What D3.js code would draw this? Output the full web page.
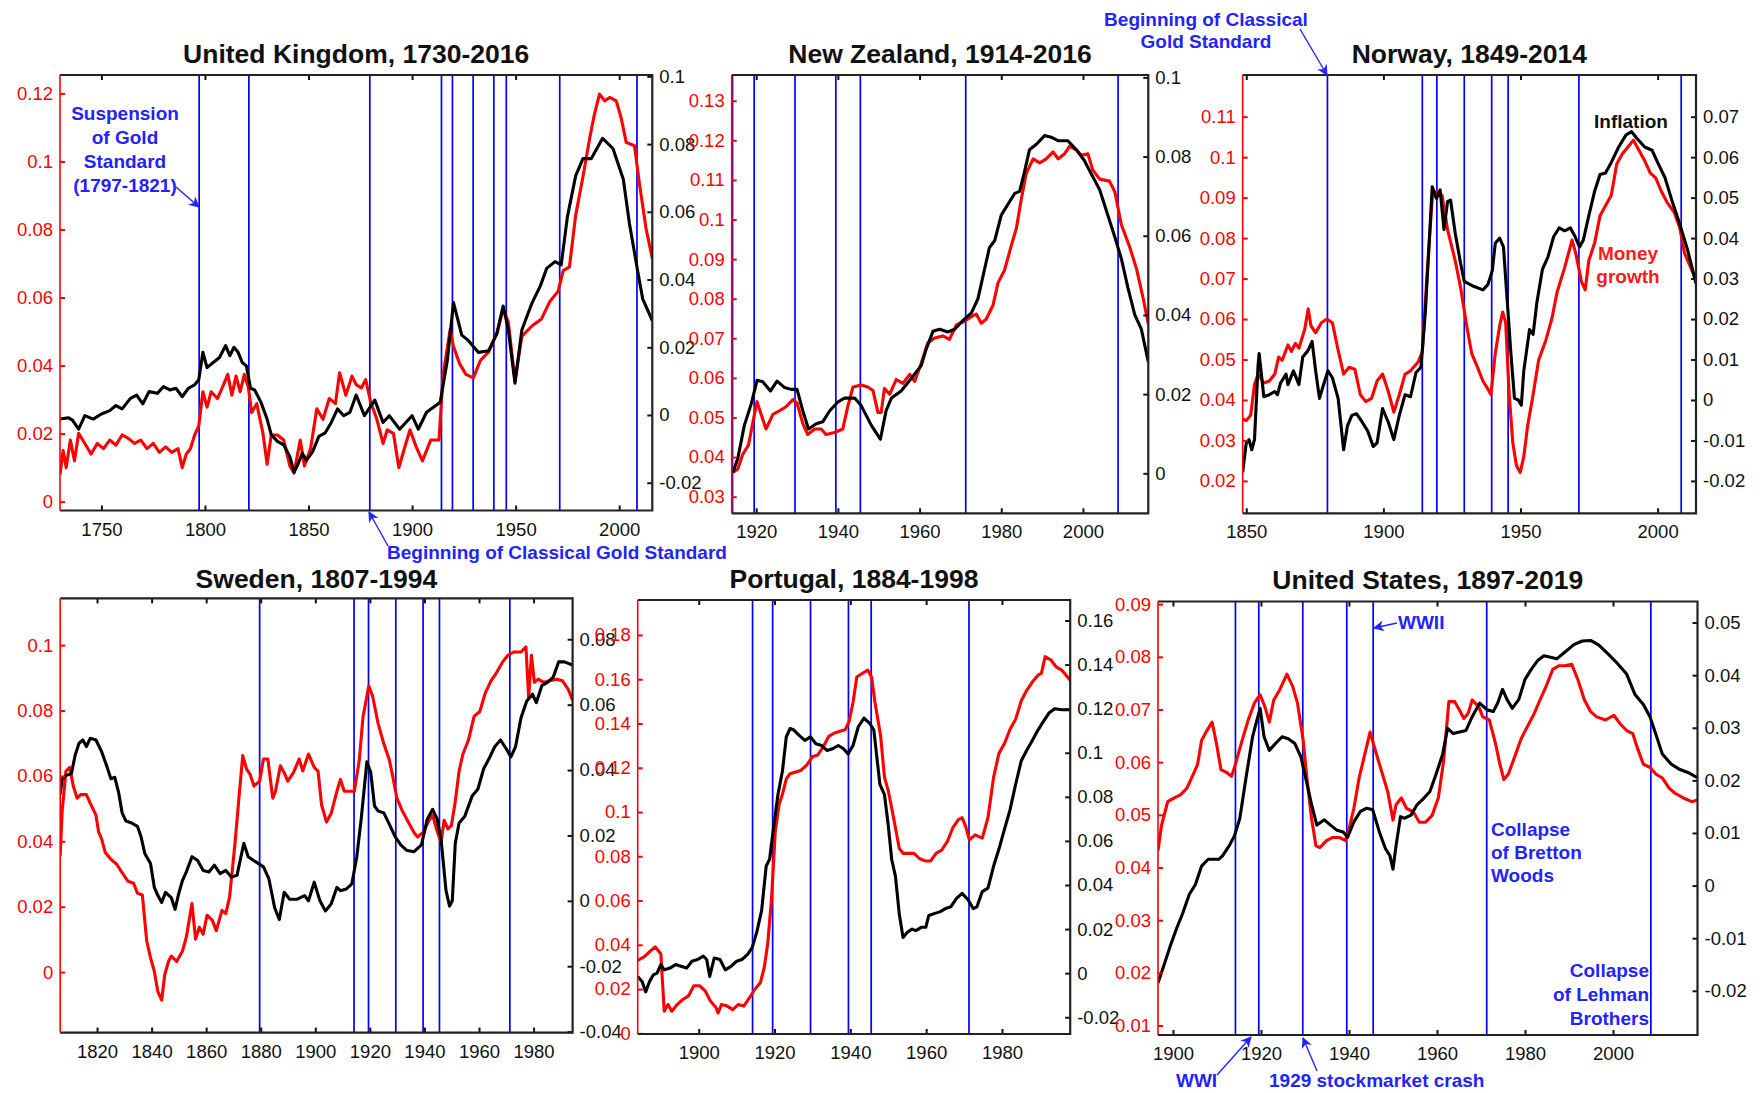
<!DOCTYPE html>
<html>
<head>
<meta charset="utf-8">
<script src="https://cdn.jsdelivr.net/npm/d3@7"></script>
<style>
  body { margin: 0; background: #fff; }
  svg { display: block; font-family: "Liberation Sans", Arial, Helvetica, sans-serif; }
</style>
</head>
<body>
<svg id="chart" width="1763" height="1093"></svg>
<script>
// ---------------- data: [year, value] ----------------
// Money growth (red, left axis) and inflation (black, right axis), moving averages.

const ukMoney = [[1730,0.0079],[1731.5,0.015],[1733,0.010],[1735,0.0181],[1737,0.012],[1739,0.0201],[1742,0.0171],[1745,0.014],[1748,0.0171],[1751,0.0156],[1754,0.0181],[1757,0.0166],[1760,0.0196],[1763,0.0186],[1766,0.0171],[1769,0.0181],[1772,0.0156],[1775,0.0171],[1778,0.0145],[1781,0.0161],[1784,0.0145],[1787,0.0156],[1789,0.010],[1791,0.014],[1793,0.0156],[1795,0.0196],[1797,0.0222],[1799,0.0323],[1801,0.0278],[1803,0.0323],[1806,0.0303],[1809,0.0344],[1811,0.0374],[1813,0.0313],[1815,0.0369],[1817,0.0323],[1819,0.0374],[1821,0.0334],[1822.5,0.0262],[1825,0.0288],[1828,0.0201],[1830,0.011],[1832,0.0196],[1835,0.0196],[1838,0.0181],[1841,0.0105],[1843,0.0084],[1846,0.0181],[1848,0.0105],[1851,0.0156],[1854,0.0273],[1857,0.0242],[1860,0.0303],[1863,0.0288],[1865,0.0379],[1868,0.0313],[1871,0.0369],[1873,0.0344],[1875.5,0.0334],[1877.6,0.0359],[1880,0.0293],[1883,0.0242],[1886,0.0171],[1888,0.0211],[1891,0.0201],[1893.6,0.010],[1897,0.0171],[1899,0.0211],[1902,0.0161],[1905,0.012],[1909,0.0181],[1913,0.0181],[1915,0.0374],[1918.4,0.0506],[1920,0.0456],[1923,0.0405],[1926,0.0374],[1929.6,0.0364],[1933,0.0415],[1937,0.044],[1941,0.0496],[1944,0.0567],[1946.5,0.0527],[1949.7,0.0354],[1953,0.0486],[1958,0.0517],[1962.5,0.0537],[1966.5,0.0588],[1970.5,0.0618],[1973,0.0679],[1976,0.069],[1979,0.0842],[1982.5,0.0954],[1985.7,0.1066],[1988,0.1137],[1990.5,0.1198],[1993,0.1178],[1995.4,0.1188],[1998.6,0.1178],[2001,0.1127],[2003.4,0.1056],[2007.4,0.1046],[2009.8,0.0934],[2013,0.0802],[2016,0.0715]];
const ukInflation = [[1730,-0.0012],[1734,-0.0008],[1736,-0.0015],[1739,-0.0042],[1742,-0.0002],[1746,-0.0012],[1750,0.0003],[1754,0.0013],[1757,0.0028],[1760,0.0018],[1764,0.0049],[1767,0.0059],[1770,0.0033],[1773,0.0069],[1777,0.0064],[1780,0.0084],[1783,0.0074],[1786,0.0079],[1789,0.0054],[1792,0.0079],[1795,0.0089],[1797,0.0104],[1799,0.0185],[1801,0.014],[1804,0.0155],[1807,0.017],[1810,0.0205],[1812,0.0175],[1814,0.02],[1816,0.0185],[1818,0.0155],[1820,0.0145],[1822,0.0079],[1824,0.0074],[1827,0.0038],[1830,-0.0012],[1832,-0.0058],[1835,-0.0078],[1838,-0.0088],[1841,-0.0123],[1843,-0.0169],[1845,-0.0144],[1847,-0.0113],[1849,-0.0134],[1852,-0.0108],[1855,-0.0063],[1858,-0.0053],[1861,-0.0022],[1864,0.0018],[1867,-0.0002],[1870,0.0008],[1873,0.0059],[1877,-0.0002],[1882,0.0044],[1886,-0.0022],[1889,-0.0002],[1894,-0.0042],[1900,-0.0002],[1903,-0.0042],[1907,0.0008],[1913.6,0.0038],[1917,0.016],[1920,0.0332],[1924,0.0236],[1927,0.0221],[1932,0.0185],[1937,0.019],[1941,0.0241],[1944,0.0322],[1946.5,0.0251],[1949.7,0.0094],[1953,0.0251],[1958,0.0332],[1962,0.0382],[1965,0.0433],[1969,0.0453],[1972,0.0443],[1975,0.0585],[1979,0.0706],[1982.5,0.0757],[1986.5,0.0757],[1992,0.0817],[1997,0.0787],[2002,0.0696],[2005,0.0564],[2009,0.0423],[2011.4,0.0342],[2016,0.0279]];

const nzMoney = [[1914.3,0.0361],[1915.5,0.037],[1916.7,0.0407],[1918.1,0.043],[1919.4,0.0499],[1920.2,0.054],[1921.2,0.0508],[1922.4,0.0471],[1924.1,0.0508],[1925.7,0.0517],[1927.3,0.0527],[1929,0.0545],[1930,0.0536],[1931.4,0.0485],[1932.6,0.0457],[1934.3,0.0471],[1935.9,0.0471],[1937.1,0.0457],[1939.2,0.0462],[1941.2,0.0471],[1942.4,0.0527],[1943.7,0.0577],[1945.7,0.0582],[1947.3,0.0577],[1948.6,0.0568],[1949.8,0.0513],[1950.6,0.0513],[1951.4,0.0573],[1952.7,0.0559],[1954.3,0.0596],[1955.9,0.0586],[1957.6,0.0609],[1958.8,0.0591],[1960.4,0.0637],[1962,0.0688],[1963.7,0.0701],[1965.7,0.0706],[1967.3,0.0697],[1969,0.0734],[1971,0.0743],[1973.1,0.0757],[1973.9,0.0761],[1975.1,0.0738],[1976.3,0.0748],[1978,0.0784],[1979.2,0.084],[1980.8,0.0872],[1982.4,0.0932],[1983.7,0.0978],[1984.9,0.1051],[1986.1,0.1116],[1987.8,0.1153],[1989.4,0.1143],[1991,0.1153],[1992.7,0.1171],[1993.9,0.1153],[1995.5,0.1166],[1996.7,0.1185],[1998.4,0.1176],[1999.6,0.1162],[2001.2,0.1166],[2002.4,0.1125],[2004.1,0.1102],[2006.5,0.1097],[2007.8,0.107],[2009.4,0.0987],[2011.4,0.0932],[2013.1,0.0876],[2014.7,0.0803],[2016,0.0736]];
const nzInflation = [[1914.3,0.0002],[1915.5,0.0038],[1917.1,0.0121],[1918.8,0.0176],[1920.2,0.0235],[1921.6,0.0231],[1923.5,0.0208],[1925.1,0.0233],[1926.9,0.0217],[1928.6,0.0212],[1930,0.0212],[1931.4,0.0158],[1932.8,0.0112],[1934.7,0.0125],[1936.3,0.013],[1938,0.0158],[1940,0.018],[1941.6,0.019],[1944.1,0.019],[1945.7,0.0171],[1948.2,0.0121],[1950.4,0.0086],[1951.8,0.0158],[1953.1,0.019],[1955.5,0.0208],[1958,0.024],[1960.4,0.0272],[1961.6,0.0313],[1963.3,0.0359],[1964.9,0.0364],[1966.9,0.0357],[1968.6,0.0364],[1970.6,0.0386],[1972.7,0.0405],[1974.3,0.0441],[1975.9,0.0515],[1977.1,0.057],[1978.4,0.0588],[1980,0.0652],[1981.6,0.0679],[1983.3,0.0707],[1984.5,0.0712],[1985.7,0.0762],[1986.9,0.0817],[1988.6,0.0831],[1990.6,0.0853],[1992.2,0.0849],[1993.9,0.084],[1996.3,0.084],[1998.4,0.0817],[2000.4,0.0789],[2002,0.0757],[2004.1,0.0716],[2006.1,0.0652],[2007.8,0.0597],[2009.4,0.0542],[2011,0.0469],[2012.7,0.04],[2014.3,0.0364],[2016,0.0281]];

const noMoney = [[1848.7,0.0353],[1850,0.0349],[1851.6,0.0362],[1853,0.0438],[1854.3,0.0464],[1856.4,0.0442],[1858.4,0.0447],[1860.4,0.0464],[1861.8,0.0506],[1863.1,0.0498],[1865.2,0.0536],[1866.5,0.052],[1867.9,0.054],[1869.2,0.0528],[1871.3,0.0574],[1872.6,0.0625],[1873.6,0.0583],[1875.3,0.0566],[1877.4,0.0591],[1879.4,0.06],[1881.4,0.0591],[1883.5,0.0523],[1885.5,0.0464],[1887.5,0.0481],[1889.6,0.0476],[1891.6,0.0413],[1893.6,0.0396],[1895.7,0.0404],[1897.7,0.0447],[1899.7,0.0464],[1901.8,0.0421],[1903.8,0.037],[1905.8,0.0413],[1907.9,0.0464],[1909.9,0.0472],[1912.6,0.0493],[1914.2,0.0519],[1916,0.0719],[1917.8,0.0898],[1919.4,0.0915],[1921.4,0.0906],[1923.4,0.0821],[1926.2,0.0744],[1928.2,0.0676],[1930.2,0.0591],[1932.2,0.0515],[1934.3,0.0481],[1936.3,0.0447],[1938.3,0.0425],[1939.2,0.0413],[1940.8,0.0515],[1942.4,0.0583],[1943.5,0.0617],[1944.6,0.0591],[1945.8,0.0421],[1947.2,0.0294],[1948.5,0.0238],[1949.9,0.0221],[1951.2,0.026],[1952.6,0.0336],[1954.6,0.0413],[1956.6,0.0498],[1959.3,0.0549],[1961.4,0.06],[1963.4,0.0668],[1966.1,0.0727],[1968.8,0.0795],[1970.2,0.0761],[1972.2,0.0693],[1973.6,0.0672],[1974.9,0.0744],[1977,0.0787],[1979,0.0855],[1981,0.088],[1983.1,0.0906],[1985.1,0.0983],[1987.1,0.1008],[1989.2,0.1025],[1991.2,0.1042],[1993.2,0.1017],[1995.3,0.0991],[1997.3,0.0961],[1999.3,0.0949],[2001.4,0.0915],[2003.4,0.0889],[2006.1,0.0863],[2008.1,0.0825],[2009.8,0.0763],[2014,0.0697]];
const noInflation = [[1848.7,-0.0179],[1850,-0.0106],[1851,-0.0098],[1852,-0.0123],[1853,-0.0098],[1854.3,0.0085],[1854.7,0.0115],[1856.4,0.0008],[1858.4,0.0013],[1860.4,0.0021],[1861.4,0.0013],[1862.5,0.0042],[1864.5,0.0064],[1865.2,0.0038],[1867.2,0.0072],[1869.2,0.0038],[1870.6,0.0106],[1872.6,0.0123],[1874,0.0145],[1875.3,0.0072],[1876.7,0.0004],[1878,0.0034],[1879.8,0.0072],[1881.4,0.0055],[1883.5,0.0004],[1885.5,-0.0123],[1886.9,-0.0064],[1888.5,-0.0038],[1890.2,-0.0034],[1892.3,-0.0055],[1894.3,-0.0077],[1896.3,-0.0115],[1897.7,-0.0106],[1899.7,-0.0021],[1901.8,-0.0055],[1903.8,-0.0098],[1905.8,-0.0038],[1907.9,0.0013],[1909.9,0.0008],[1911.9,0.0068],[1913.7,0.0081],[1915.3,0.0217],[1916.7,0.0387],[1917.8,0.0527],[1919.4,0.0498],[1920.7,0.0519],[1922.1,0.0421],[1923.4,0.049],[1924.5,0.0494],[1926.2,0.0412],[1928.2,0.0336],[1929.5,0.0293],[1932.9,0.0281],[1936.3,0.0272],[1938.1,0.0285],[1939.7,0.0319],[1940.8,0.0387],[1942.4,0.04],[1943.8,0.0378],[1945.1,0.0251],[1946.5,0.0115],[1947.8,0.0004],[1949.2,0],[1950.3,-0.0013],[1951.2,0.0072],[1953.3,0.0174],[1954.6,0.0162],[1956,0.0242],[1958,0.0323],[1960,0.0353],[1962.1,0.0404],[1964.1,0.0425],[1966.1,0.0418],[1968.2,0.0425],[1969.9,0.0404],[1971.5,0.0378],[1972.9,0.0395],[1974.9,0.0455],[1977,0.0515],[1979,0.0557],[1981,0.0561],[1983.1,0.0587],[1985.8,0.0625],[1988.5,0.0655],[1990.5,0.0663],[1992.5,0.0646],[1995.3,0.0625],[1998,0.0617],[2000,0.0587],[2002.7,0.0549],[2005.4,0.0489],[2008.1,0.0434],[2010.8,0.0374],[2014,0.0288]];

const swMoney = [[1806.5,0.0356],[1807.2,0.0491],[1808.6,0.0615],[1810,0.0626],[1811.3,0.0569],[1812.7,0.0532],[1814,0.0543],[1816.1,0.0543],[1817.5,0.0517],[1819.6,0.048],[1820.6,0.0428],[1821.7,0.0407],[1823,0.0366],[1825.1,0.0345],[1827.2,0.033],[1829.2,0.0304],[1831.3,0.0278],[1833.4,0.0272],[1834.8,0.0241],[1836.6,0.0236],[1838.2,0.0096],[1839.6,0.0044],[1841,0.0002],[1842.3,-0.006],[1843.7,-0.0086],[1844.8,-0.0008],[1846.2,0.0033],[1847.2,0.0049],[1849.2,0.0033],[1851.3,0.0064],[1852.7,0.0106],[1854.8,0.021],[1856.1,0.0101],[1857.5,0.0137],[1858.9,0.0116],[1860.3,0.0174],[1862.3,0.0158],[1863.7,0.0127],[1865.8,0.0189],[1867.2,0.0179],[1868.6,0.0231],[1870.6,0.0397],[1872,0.0532],[1873.4,0.0662],[1874.8,0.0621],[1876.1,0.0605],[1877.5,0.0569],[1879.6,0.0584],[1881,0.0652],[1882.6,0.0652],[1884.4,0.0532],[1885.4,0.0553],[1887.2,0.0631],[1888.6,0.061],[1889.9,0.0584],[1892,0.061],[1894.1,0.0652],[1895.4,0.0615],[1897.5,0.0667],[1899.6,0.0626],[1901,0.0615],[1902.3,0.0511],[1904.1,0.0459],[1905.8,0.0485],[1907.9,0.0553],[1909.2,0.0589],[1910.6,0.0553],[1912.7,0.0553],[1914.3,0.0553],[1916.1,0.0647],[1917.5,0.0782],[1919.6,0.0875],[1921,0.0844],[1923,0.0761],[1925.1,0.0699],[1927.2,0.0647],[1928.6,0.0589],[1929.9,0.0532],[1932,0.0491],[1934.1,0.0459],[1936.1,0.0428],[1937.5,0.0413],[1939.6,0.0428],[1941.7,0.0464],[1943,0.048],[1944.4,0.0438],[1946.1,0.0397],[1947.2,0.0464],[1948.6,0.0438],[1949.9,0.0449],[1951.3,0.0522],[1952.7,0.0615],[1954.1,0.0667],[1956.1,0.0709],[1958.2,0.0782],[1960.3,0.0797],[1962.3,0.0854],[1964.4,0.0891],[1966.5,0.0917],[1968.6,0.0948],[1970.6,0.0969],[1972.7,0.0979],[1975.4,0.0979],[1977.2,0.0995],[1978.2,0.0839],[1979.2,0.0969],[1980.3,0.0886],[1981.7,0.0896],[1983.7,0.0886],[1985.8,0.0891],[1988.6,0.0896],[1990.6,0.0891],[1992.7,0.0865],[1994.3,0.0832]];
const swInflation = [[1806.5,0.0326],[1807.2,0.0373],[1808.6,0.0383],[1810.6,0.0389],[1812,0.0446],[1813.4,0.0482],[1814.8,0.0492],[1816.1,0.0472],[1817.5,0.0497],[1819.6,0.0492],[1821.7,0.0456],[1823.7,0.0409],[1825.1,0.0373],[1826.5,0.0378],[1827.9,0.0332],[1829.2,0.0269],[1830.6,0.0244],[1832.7,0.0238],[1834.8,0.0228],[1836.1,0.0197],[1837.5,0.0145],[1839.6,0.0114],[1841,0.0041],[1842.3,0.0016],[1843.7,-0.0005],[1845.1,0.0026],[1847.2,0.001],[1848.6,-0.0026],[1849.9,0.0021],[1851.3,0.0062],[1852.7,0.0088],[1854.8,0.0135],[1856.8,0.0124],[1858.9,0.0093],[1861,0.0088],[1863,0.0109],[1865.1,0.0083],[1867.2,0.0093],[1869.2,0.0073],[1871.3,0.0078],[1873.8,0.0176],[1875.4,0.0135],[1878.2,0.0119],[1881,0.0104],[1883,0.0067],[1885.1,-0.0021],[1886.8,-0.0057],[1888.6,0.0026],[1890.6,0.0005],[1893.4,0.0005],[1896.1,0.0016],[1897.5,0],[1899.6,0.0057],[1901.7,0],[1903.7,-0.0031],[1905.8,-0.001],[1907.9,0.0041],[1909.2,0.0031],[1911.3,0.0036],[1913.4,0.0052],[1915.2,0.0135],[1916.8,0.0249],[1918.9,0.0425],[1920.3,0.0394],[1921.7,0.029],[1923,0.0275],[1925.1,0.0269],[1927.2,0.0233],[1929.2,0.0197],[1931.3,0.0171],[1933.4,0.0155],[1936.1,0.015],[1938.9,0.0171],[1941,0.0249],[1943,0.028],[1944.7,0.0249],[1946.1,0.0187],[1947.9,0.0031],[1949.2,-0.0016],[1950.2,0],[1951.3,0.0176],[1952.7,0.0238],[1954.8,0.0259],[1957.5,0.0321],[1959.6,0.0342],[1961.7,0.0404],[1963.7,0.0435],[1965.8,0.0472],[1967.9,0.0492],[1969.9,0.0466],[1971.7,0.044],[1973.4,0.0472],[1975.4,0.056],[1977.5,0.0611],[1979.6,0.0632],[1981,0.0606],[1983,0.0658],[1985.1,0.0668],[1987.2,0.0684],[1989.2,0.0731],[1991.3,0.0731],[1994.3,0.0721]];

const ptMoney = [[1883.9,0.033],[1885.6,0.0345],[1887,0.0368],[1888.5,0.0391],[1890,0.036],[1890.9,0.010],[1891.9,0.013],[1892.9,0.010],[1894.3,0.013],[1895.8,0.0153],[1897.3,0.0169],[1898.7,0.0215],[1900.2,0.0215],[1901.7,0.0192],[1903.1,0.0146],[1904.6,0.0115],[1905.1,0.0092],[1906,0.013],[1907.5,0.0123],[1909,0.0107],[1910.4,0.013],[1911.9,0.0123],[1913.4,0.0161],[1914.8,0.0199],[1916.3,0.023],[1917.3,0.0299],[1918.2,0.0406],[1919.2,0.0606],[1920.2,0.0913],[1921.2,0.1035],[1922.1,0.1081],[1923.1,0.115],[1924.1,0.1173],[1925.6,0.1181],[1927,0.1189],[1928.5,0.1212],[1930,0.125],[1931.4,0.1258],[1932.9,0.1296],[1934.3,0.1342],[1935.8,0.1357],[1937.3,0.1365],[1938.7,0.1373],[1939.7,0.1411],[1940.7,0.1495],[1941.7,0.161],[1943.1,0.1626],[1944.6,0.1641],[1945.6,0.161],[1946.5,0.1495],[1948,0.1342],[1949,0.1158],[1950,0.1097],[1951.4,0.0974],[1952.9,0.0836],[1953.9,0.0813],[1955.3,0.0813],[1956.8,0.0813],[1958.2,0.079],[1959.7,0.0779],[1961.2,0.0779],[1962.6,0.0813],[1964.1,0.0828],[1965.6,0.0867],[1967,0.0928],[1968.5,0.0966],[1969.5,0.0974],[1970.4,0.0936],[1971.4,0.0874],[1972.9,0.0897],[1974.8,0.0882],[1976.3,0.0974],[1977.8,0.1158],[1979.2,0.1265],[1980.7,0.1311],[1982.1,0.1373],[1983.6,0.1419],[1985.1,0.1503],[1986.5,0.1549],[1988,0.1587],[1989.5,0.1618],[1990.4,0.1626],[1991.4,0.1702],[1992.9,0.1687],[1994.3,0.1656],[1995.8,0.1641],[1998,0.1595]];
const ptInflation = [[1883.9,-0.0015],[1885.1,-0.0039],[1886,-0.0085],[1887,-0.0039],[1888,-0.0008],[1889,0],[1890,0.0039],[1890.9,0.0015],[1892.4,0.0023],[1893.9,0.0039],[1895.3,0.0031],[1896.8,0.0023],[1898.2,0.0054],[1899.7,0.0062],[1901.2,0.0077],[1902.1,0.0062],[1902.9,-0.0015],[1904.1,0.0069],[1905.6,0.0062],[1907,0.0015],[1908.5,0.0031],[1910,0.0054],[1911.4,0.0062],[1912.9,0.0085],[1914.1,0.0116],[1915.3,0.0185],[1916.6,0.0285],[1917.8,0.0486],[1918.7,0.0517],[1919.7,0.0655],[1920.9,0.081],[1922.1,0.0918],[1923.1,0.1072],[1924.1,0.111],[1925.1,0.1103],[1926.5,0.1079],[1928,0.1056],[1929.5,0.1072],[1930.9,0.1041],[1932.4,0.1033],[1933.9,0.101],[1935.3,0.1018],[1936.8,0.1033],[1938.2,0.1018],[1939.4,0.0995],[1940.7,0.1033],[1942.1,0.1118],[1943.6,0.1157],[1945.1,0.1133],[1946.2,0.1103],[1947,0.0979],[1947.8,0.0856],[1949,0.081],[1950,0.0671],[1950.9,0.0517],[1951.9,0.0439],[1952.9,0.027],[1953.9,0.0162],[1955,0.0185],[1956.3,0.02],[1957.3,0.0193],[1958.7,0.0208],[1959.9,0.0208],[1960.7,0.0262],[1962.1,0.027],[1963.6,0.0278],[1965.1,0.0293],[1966.5,0.0301],[1968,0.0339],[1969.5,0.0362],[1971.1,0.0332],[1972.4,0.0293],[1973.4,0.0301],[1974.8,0.037],[1976.3,0.0386],[1977.8,0.0486],[1979.2,0.0563],[1980.7,0.0655],[1982.1,0.074],[1983.6,0.0856],[1985.1,0.0964],[1986.5,0.101],[1988,0.1056],[1989.5,0.1103],[1990.9,0.1141],[1992.4,0.118],[1993.9,0.12],[1995.8,0.1195],[1998,0.1195]];

const usMoney = [[1896.6,0.0432],[1897.4,0.048],[1898.8,0.0525],[1900.3,0.0532],[1901.7,0.0538],[1903.2,0.0551],[1904.6,0.0577],[1905.6,0.0596],[1906.5,0.0641],[1907.5,0.0657],[1908.9,0.0676],[1909.9,0.0635],[1910.9,0.0586],[1912.3,0.058],[1913.3,0.0573],[1914.2,0.0596],[1915.7,0.0641],[1917.1,0.068],[1918.5,0.0712],[1919.8,0.0728],[1920.9,0.0705],[1921.9,0.0676],[1922.9,0.0718],[1924.3,0.0738],[1925.9,0.0767],[1927.2,0.0744],[1928.3,0.0712],[1929.6,0.0641],[1930.5,0.0564],[1931.5,0.0493],[1932.5,0.0441],[1933.4,0.0438],[1934.9,0.0451],[1936.3,0.0457],[1937.8,0.0457],[1939.2,0.0451],[1940.2,0.048],[1941.1,0.0512],[1942.3,0.057],[1943.5,0.0612],[1944.8,0.0657],[1945.9,0.0625],[1947.4,0.0583],[1948.8,0.0544],[1950,0.049],[1950.7,0.0519],[1951.9,0.0532],[1953.1,0.0512],[1954.6,0.0506],[1956,0.0486],[1957.4,0.0486],[1958.9,0.0499],[1960.3,0.0532],[1961.5,0.0602],[1962.7,0.0715],[1964,0.0715],[1965.1,0.0699],[1966.1,0.0683],[1967.1,0.0693],[1968,0.0718],[1969.5,0.0705],[1970.4,0.0686],[1971.9,0.068],[1973.3,0.0635],[1974.3,0.0596],[1975.2,0.0567],[1976.2,0.0577],[1977.6,0.0609],[1979.1,0.0644],[1980.5,0.0667],[1981.9,0.0689],[1983.4,0.0718],[1984.8,0.0744],[1986.3,0.0776],[1987.7,0.0783],[1989.1,0.0783],[1990.6,0.0786],[1992,0.0757],[1993.5,0.0718],[1994.9,0.0696],[1996.3,0.0686],[1998.3,0.068],[2000.2,0.0689],[2001.6,0.0673],[2003.1,0.066],[2004.5,0.0654],[2005.5,0.0628],[2006.9,0.0596],[2008.4,0.059],[2009.8,0.0577],[2011.2,0.057],[2012.7,0.0551],[2014.1,0.0541],[2016,0.0532],[2017.9,0.0525],[2019.2,0.0528]];
const usInflation = [[1896.6,-0.0185],[1897.9,-0.0153],[1899.3,-0.0117],[1900.8,-0.0082],[1902.2,-0.0053],[1903.7,-0.0017],[1905.1,0.0002],[1906.5,0.0037],[1908,0.005],[1908.9,0.005],[1910.4,0.005],[1911.3,0.0057],[1912.8,0.0076],[1914,0.0095],[1915.2,0.0128],[1916.6,0.0205],[1918.1,0.0283],[1919,0.0312],[1919.8,0.0337],[1920.7,0.0283],[1921.9,0.0257],[1923.3,0.027],[1924.8,0.0283],[1926.2,0.0279],[1927.7,0.027],[1929.1,0.0244],[1930.5,0.0192],[1931.5,0.0154],[1932.7,0.0115],[1934.4,0.0125],[1935.8,0.0115],[1937.3,0.0105],[1938.7,0.0102],[1939.7,0.0092],[1941.1,0.0121],[1942.6,0.0141],[1944,0.0147],[1945.4,0.0144],[1946.9,0.0102],[1948.3,0.007],[1949.3,0.0057],[1950,0.0031],[1950.7,0.0076],[1951.7,0.0131],[1952.6,0.0128],[1954.1,0.0134],[1955.5,0.0154],[1957,0.0166],[1958.4,0.0179],[1959.8,0.0212],[1961.3,0.025],[1962.4,0.0299],[1963.7,0.0289],[1965.1,0.0292],[1966.6,0.0295],[1968,0.0321],[1969.7,0.0347],[1971.4,0.0334],[1972.8,0.0331],[1973.8,0.0347],[1974.9,0.0373],[1975.9,0.0354],[1977.1,0.0337],[1978.6,0.0354],[1980,0.0392],[1981.5,0.0412],[1982.9,0.0428],[1984.3,0.0437],[1985.8,0.0434],[1987.2,0.0431],[1989.1,0.0444],[1991.1,0.0458],[1993,0.0465],[1994.9,0.0466],[1996.8,0.0457],[1998.8,0.0441],[2000.7,0.0425],[2003.1,0.0402],[2005,0.0363],[2006.9,0.0344],[2008.4,0.0321],[2009.8,0.0286],[2011.2,0.025],[2013.2,0.0231],[2015.1,0.0221],[2017,0.0215],[2019.2,0.0205]];

// Event years marked by vertical lines
const commonEvents = [1914.2, 1919.5, 1929.5, 1939.5, 1945.5, 1971.3, 2008.6];
const goldStandardStart = 1879.6;
const ukSuspension = [1797.2, 1821.2];

// Axis limits
const ukYears = [1730, 2016], ukMoneyRange = [-0.0026, 0.1254], ukInflRange = [-0.0282, 0.1004];
const nzYears = [1914, 2016], nzMoneyRange = [0.0258, 0.1365], nzInflRange = [-0.0101, 0.1006];
const noYears = [1848.7, 2014], noMoneyRange = [0.012, 0.1203], noInflRange = [-0.028, 0.0803];
const swYears = [1806.5, 1994.3], swMoneyRange = [-0.0185, 0.1143], swInflRange = [-0.0403, 0.0925];
const ptYears = [1883.9, 1998], ptMoneyRange = [-0.0003, 0.1958], ptInflRange = [-0.0276, 0.1693];
const usYears = [1896.6, 2019.2], usMoneyRange = [0.0082, 0.0905], usInflRange = [-0.0284, 0.054];

// Tick values
const ukYearTicks = [1750, 1800, 1850, 1900, 1950, 2000];
const ukMoneyTicks = [0, 0.02, 0.04, 0.06, 0.08, 0.1, 0.12];
const ukInflTicks = [-0.02, 0, 0.02, 0.04, 0.06, 0.08, 0.1];
const nzYearTicks = [1920, 1940, 1960, 1980, 2000];
const nzMoneyTicks = [0.03, 0.04, 0.05, 0.06, 0.07, 0.08, 0.09, 0.1, 0.11, 0.12, 0.13];
const nzInflTicks = [0, 0.02, 0.04, 0.06, 0.08, 0.1];
const noYearTicks = [1850, 1900, 1950, 2000];
const noMoneyTicks = [0.02, 0.03, 0.04, 0.05, 0.06, 0.07, 0.08, 0.09, 0.1, 0.11];
const noInflTicks = [-0.02, -0.01, 0, 0.01, 0.02, 0.03, 0.04, 0.05, 0.06, 0.07];
const swYearTicks = [1820, 1840, 1860, 1880, 1900, 1920, 1940, 1960, 1980];
const swMoneyTicks = [0, 0.02, 0.04, 0.06, 0.08, 0.1];
const swInflTicks = [-0.04, -0.02, 0, 0.02, 0.04, 0.06, 0.08];
const ptYearTicks = [1900, 1920, 1940, 1960, 1980];
const ptMoneyTicks = [0, 0.02, 0.04, 0.06, 0.08, 0.1, 0.12, 0.14, 0.16, 0.18];
const ptInflTicks = [-0.02, 0, 0.02, 0.04, 0.06, 0.08, 0.1, 0.12, 0.14, 0.16];
const usYearTicks = [1900, 1920, 1940, 1960, 1980, 2000];
const usMoneyTicks = [0.01, 0.02, 0.03, 0.04, 0.05, 0.06, 0.07, 0.08, 0.09];
const usInflTicks = [-0.02, -0.01, 0, 0.01, 0.02, 0.03, 0.04, 0.05];

// ---------------- drawing ----------------
const RED = "#ff0000", BLUE = "#0000ff", NOTE = "#2323ff";
const svg = d3.select("#chart");
svg.append("rect").attr("width", 1763).attr("height", 1093).attr("fill", "#fff");
const defs = svg.append("defs");
defs.append("marker").attr("id", "arrowhead")
  .attr("viewBox", "0 0 10 10").attr("refX", 9).attr("refY", 5)
  .attr("markerWidth", 14).attr("markerHeight", 11).attr("markerUnits", "userSpaceOnUse")
  .attr("orient", "auto")
  .append("path").attr("d", "M0,0 L10,5 L0,10 L3,5 Z").attr("fill", NOTE);

const fmt = d => String(+d.toFixed(4));

const panels = [
  { id: "uk", title: "United Kingdom, 1730-2016", box: [60, 75, 652.3, 510.5], titleY: 63,
    years: ukYears, moneyRange: ukMoneyRange, inflRange: ukInflRange,
    yearTicks: ukYearTicks, moneyTicks: ukMoneyTicks, inflTicks: ukInflTicks,
    money: ukMoney, inflation: ukInflation, events: [...ukSuspension, goldStandardStart, ...commonEvents] },
  { id: "nz", title: "New Zealand, 1914-2016", box: [731.7, 75, 1148.3, 513.3], titleY: 63,
    years: nzYears, moneyRange: nzMoneyRange, inflRange: nzInflRange,
    yearTicks: nzYearTicks, moneyTicks: nzMoneyTicks, inflTicks: nzInflTicks,
    money: nzMoney, inflation: nzInflation, events: commonEvents },
  { id: "no", title: "Norway, 1849-2014", box: [1242.7, 75, 1696, 513.3], titleY: 63,
    years: noYears, moneyRange: noMoneyRange, inflRange: noInflRange,
    yearTicks: noYearTicks, moneyTicks: noMoneyTicks, inflTicks: noInflTicks,
    money: noMoney, inflation: noInflation, events: [goldStandardStart, ...commonEvents] },
  { id: "sw", title: "Sweden, 1807-1994", box: [60.2, 598.4, 572.6, 1032.6], titleY: 588,
    years: swYears, moneyRange: swMoneyRange, inflRange: swInflRange,
    yearTicks: swYearTicks, moneyTicks: swMoneyTicks, inflTicks: swInflTicks,
    money: swMoney, inflation: swInflation, events: [goldStandardStart, ...commonEvents] },
  { id: "pt", title: "Portugal, 1884-1998", box: [637.7, 600, 1070.2, 1034], titleY: 588,
    years: ptYears, moneyRange: ptMoneyRange, inflRange: ptInflRange,
    yearTicks: ptYearTicks, moneyTicks: ptMoneyTicks, inflTicks: ptInflTicks,
    money: ptMoney, inflation: ptInflation, events: commonEvents },
  { id: "us", title: "United States, 1897-2019", box: [1158, 601.5, 1697.5, 1035], titleY: 589,
    years: usYears, moneyRange: usMoneyRange, inflRange: usInflRange,
    yearTicks: usYearTicks, moneyTicks: usMoneyTicks, inflTicks: usInflTicks,
    money: usMoney, inflation: usInflation, events: commonEvents }
];

function styleAxis(sel, color) {
  sel.attr("font-size", null).attr("font-family", null).style("color", color);
  sel.select(".domain").remove();
  sel.selectAll(".tick line").attr("stroke-width", 2);
  sel.selectAll(".tick text").style("font-size", "18.5px");
}

function drawPanel(p) {
  const [L, T, R, B] = p.box;
  const g = svg.append("g").attr("class", "panel-" + p.id);
  const x = d3.scaleLinear().domain(p.years).range([L, R]);
  const yMoney = d3.scaleLinear().domain(p.moneyRange).range([B, T]);
  const yInfl = d3.scaleLinear().domain(p.inflRange).range([B, T]);

  defs.append("clipPath").attr("id", "clip-" + p.id)
    .append("rect").attr("x", L).attr("y", T).attr("width", R - L).attr("height", B - T);
  const plot = g.append("g").attr("clip-path", `url(#clip-${p.id})`);

  // event markers
  plot.selectAll("line.event")
    .data(p.events.filter(e => e >= p.years[0] && e <= p.years[1]))
    .join("line").attr("class", "event")
    .attr("x1", d => x(d)).attr("x2", d => x(d))
    .attr("y1", T).attr("y2", B)
    .attr("stroke", BLUE).attr("stroke-width", 1.7);

  // series
  plot.append("path").datum(p.money)
    .attr("d", d3.line().x(d => x(d[0])).y(d => yMoney(d[1])))
    .attr("fill", "none").attr("stroke", RED).attr("stroke-width", 3.1)
    .attr("stroke-linejoin", "round");
  plot.append("path").datum(p.inflation)
    .attr("d", d3.line().x(d => x(d[0])).y(d => yInfl(d[1])))
    .attr("fill", "none").attr("stroke", "#000").attr("stroke-width", 3.1)
    .attr("stroke-linejoin", "round");

  // axes (ticks point inward)
  g.append("g").attr("transform", `translate(0,${B})`)
    .call(d3.axisBottom(x).tickValues(p.yearTicks).tickFormat(d3.format("d"))
      .tickSizeInner(-5).tickSizeOuter(0).tickPadding(12))
    .call(s => styleAxis(s, "#111"));
  g.append("g").attr("transform", `translate(0,${T})`)
    .call(d3.axisTop(x).tickValues(p.yearTicks).tickFormat("")
      .tickSizeInner(-5).tickSizeOuter(0))
    .call(s => styleAxis(s, "#111"));
  g.append("g").attr("transform", `translate(${L},0)`)
    .call(d3.axisLeft(yMoney).tickValues(p.moneyTicks).tickFormat(fmt)
      .tickSizeInner(-5).tickSizeOuter(0).tickPadding(7))
    .call(s => styleAxis(s, RED));
  g.append("g").attr("transform", `translate(${R},0)`)
    .call(d3.axisRight(yInfl).tickValues(p.inflTicks).tickFormat(fmt)
      .tickSizeInner(-5).tickSizeOuter(0).tickPadding(7))
    .call(s => styleAxis(s, "#111"));

  // frame: black box, red left spine
  g.append("path").attr("d", `M${L},${T}H${R}V${B}H${L}`)
    .attr("fill", "none").attr("stroke", "#222").attr("stroke-width", 2.2);
  g.append("line").attr("x1", L).attr("x2", L).attr("y1", T).attr("y2", B)
    .attr("stroke", RED).attr("stroke-width", 1.6);

  g.append("text").attr("x", (L + R) / 2).attr("y", p.titleY)
    .attr("text-anchor", "middle").attr("font-weight", "bold")
    .style("font-size", "26.5px").attr("fill", "#111").text(p.title);
}

panels.forEach(drawPanel);

// ---------------- annotations ----------------
const notes = svg.append("g").attr("font-weight", "bold").style("font-size", "19px");

function textBlock(lines, x, y0, step, anchor, color) {
  notes.append("text").attr("x", x).attr("y", y0).attr("text-anchor", anchor).attr("fill", color)
    .selectAll("tspan").data(lines).join("tspan")
    .attr("x", x).attr("dy", (d, i) => i === 0 ? 0 : step).text(d => d);
}
function arrow(x1, y1, x2, y2) {
  notes.append("line").attr("x1", x1).attr("y1", y1).attr("x2", x2).attr("y2", y2)
    .attr("stroke", NOTE).attr("stroke-width", 1.4).attr("marker-end", "url(#arrowhead)");
}

// United Kingdom
textBlock(["Suspension", "of Gold", "Standard", "(1797-1821)"], 125, 120, 24, "middle", NOTE);
arrow(176, 187, 199, 207);
notes.append("text").attr("x", 387).attr("y", 559).attr("fill", NOTE)
  .text("Beginning of Classical Gold Standard");
arrow(388, 546, 369, 512);

// Norway
textBlock(["Beginning of Classical", "Gold Standard"], 1206, 26, 22, "middle", NOTE);
arrow(1300, 29, 1327, 75);
textBlock(["Inflation"], 1631, 127.5, 0, "middle", "#111");
textBlock(["Money", "growth"], 1628, 259.5, 23, "middle", "#ff1a1a");

// United States
notes.append("text").attr("x", 1398).attr("y", 629).attr("fill", NOTE).text("WWII");
arrow(1397, 623, 1374, 628);
textBlock(["Collapse", "of Bretton", "Woods"], 1491, 836, 23, "start", NOTE);
textBlock(["Collapse", "of Lehman", "Brothers"], 1649, 977, 24, "end", NOTE);
notes.append("text").attr("x", 1176).attr("y", 1087).attr("fill", NOTE).text("WWI");
arrow(1217, 1075, 1251, 1037);
notes.append("text").attr("x", 1269).attr("y", 1087).attr("fill", NOTE).text("1929 stockmarket crash");
arrow(1317, 1071, 1303, 1038);
</script>
</body>
</html>
